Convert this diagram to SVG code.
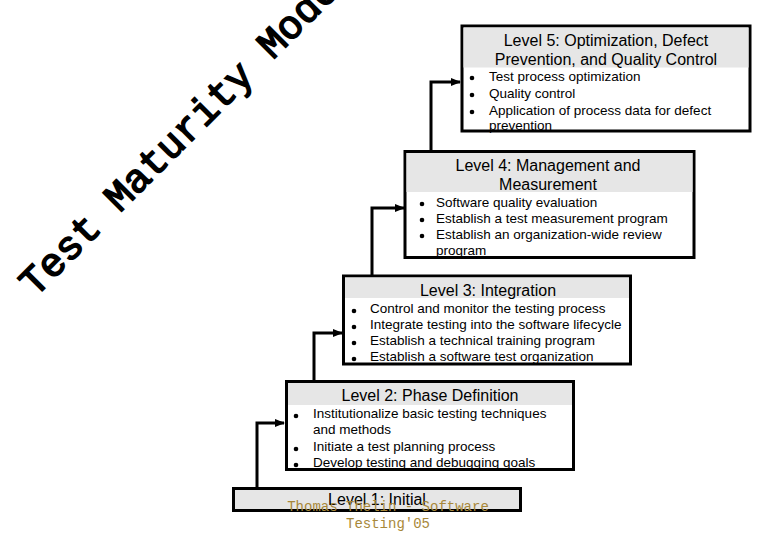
<svg xmlns="http://www.w3.org/2000/svg" width="780" height="540" viewBox="0 0 780 540">
<defs>
<marker id="ah" markerWidth="10" markerHeight="8" refX="9" refY="4" orient="auto" markerUnits="userSpaceOnUse">
<path d="M0,0 L10,4 L0,8 Z" fill="#000"/>
</marker>
<style>
.box{fill:#fff;stroke:#000;stroke-width:3}
.hdr{fill:#e6e6e6}
.h{font-family:"Liberation Sans",Arial,sans-serif;font-size:16px;fill:#000;text-anchor:middle}
.b{font-family:"Liberation Sans",Arial,sans-serif;font-size:13.5px;fill:#000}
.dot{fill:#000}
.con{fill:none;stroke:#000;stroke-width:3}
.title{font-family:"Liberation Mono","Courier New",monospace;font-size:40px;fill:#000;stroke:#000;stroke-width:1.6}
.foot{font-family:"Liberation Mono","Courier New",monospace;font-size:14px;fill:#a8883a;text-anchor:middle}
</style>
</defs>
<rect width="780" height="540" fill="#fff"/>
<text class="title" transform="translate(35,298) rotate(-45)">Test Maturity Model</text>

<g id="connectors">
<path class="con" d="M257,488 V423 H284" marker-end="url(#ah)"/>
<path class="con" d="M314,381 V333 H342" marker-end="url(#ah)"/>
<path class="con" d="M372,275 V208 H404" marker-end="url(#ah)"/>
<path class="con" d="M431,151 V82 H460" marker-end="url(#ah)"/>
</g>

<g id="level5">
<rect class="box" x="462" y="26" width="288" height="105"/>
<rect class="hdr" x="463.5" y="27.5" width="285" height="40"/>
<text class="h" x="606" y="46">Level 5: Optimization, Defect</text>
<text class="h" x="606" y="65">Prevention, and Quality Control</text>
<circle class="dot" cx="472" cy="78" r="2.3"/>
<circle class="dot" cx="472" cy="95" r="2.3"/>
<circle class="dot" cx="472" cy="112" r="2.3"/>
<text class="b" x="489" y="81">Test process optimization</text>
<text class="b" x="489" y="98">Quality control</text>
<text class="b" x="489" y="115">Application of process data for defect</text>
<text class="b" x="489" y="130">prevention</text>
</g>

<g id="level4">
<rect class="box" x="405" y="151.5" width="289" height="106"/>
<rect class="hdr" x="406.5" y="153" width="286" height="39"/>
<text class="h" x="548" y="171">Level 4: Management and</text>
<text class="h" x="548" y="190">Measurement</text>
<circle class="dot" cx="422" cy="204" r="2.3"/>
<circle class="dot" cx="422" cy="220" r="2.3"/>
<circle class="dot" cx="422" cy="236" r="2.3"/>
<text class="b" x="436" y="207">Software quality evaluation</text>
<text class="b" x="436" y="223">Establish a test measurement program</text>
<text class="b" x="436" y="239">Establish an organization-wide review</text>
<text class="b" x="436" y="255">program</text>
</g>

<g id="level3">
<rect class="box" x="343.5" y="276" width="287" height="88"/>
<rect class="hdr" x="345" y="277.5" width="284" height="20.5"/>
<text class="h" x="488" y="296">Level 3: Integration</text>
<circle class="dot" cx="354" cy="311" r="2.3"/>
<circle class="dot" cx="354" cy="327" r="2.3"/>
<circle class="dot" cx="354" cy="343" r="2.3"/>
<circle class="dot" cx="354" cy="359" r="2.3"/>
<text class="b" x="370" y="313">Control and monitor the testing process</text>
<text class="b" x="370" y="329">Integrate testing into the software lifecycle</text>
<text class="b" x="370" y="345">Establish a technical training program</text>
<text class="b" x="370" y="361">Establish a software test organization</text>
</g>

<g id="level2">
<rect class="box" x="286.5" y="381.5" width="287" height="88"/>
<rect class="hdr" x="288" y="383" width="284" height="22"/>
<text class="h" x="430" y="401">Level 2: Phase Definition</text>
<circle class="dot" cx="296" cy="416" r="2.3"/>
<circle class="dot" cx="296" cy="449" r="2.3"/>
<circle class="dot" cx="296" cy="465" r="2.3"/>
<text class="b" x="313" y="418">Institutionalize basic testing techniques</text>
<text class="b" x="313" y="434">and methods</text>
<text class="b" x="313" y="451">Initiate a test planning process</text>
<text class="b" x="313" y="467">Develop testing and debugging goals</text>
</g>

<g id="level1">
<rect x="233.5" y="488.5" width="287" height="22" fill="#e6e6e6" stroke="#000" stroke-width="3"/>
<text class="h" x="377" y="505">Level 1: Initial</text>
</g>

<g id="footer">
<text class="foot" x="388" y="511">Thomas Thelin - Software</text>
<text class="foot" x="388" y="528">Testing'05</text>
</g>
</svg>
